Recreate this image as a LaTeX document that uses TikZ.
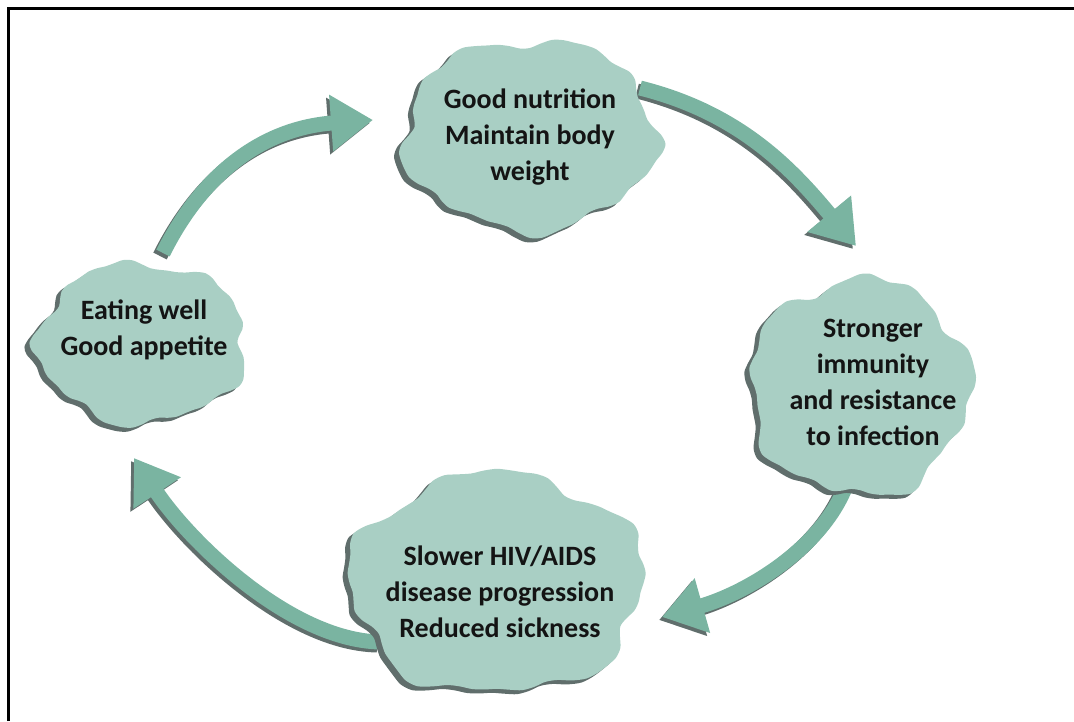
\documentclass[tikz,border=0pt]{standalone}
\usepackage{fontspec}
\setmainfont{Carlito}
\usetikzlibrary{arrows.meta,backgrounds}
\definecolor{blobfill}{RGB}{169,207,196}
\definecolor{arrowfill}{RGB}{122,180,161}
\definecolor{shadowc}{RGB}{96,110,108}
\definecolor{textc}{RGB}{20,20,20}
\newcommand{\drawblob}[5]{%
  \fill[shadowc] plot[smooth cycle, variable=\t, domain=0:355, samples=72]
   ({#1-5+#3*cos(\t)*(1+0.05*sin(5*\t+#5)+0.03*sin(9*\t+2*#5)+0.015*sin(17*\t+#5))},
    {#2+4+#4*sin(\t)*(1+0.05*sin(5*\t+#5)+0.03*sin(9*\t+2*#5)+0.015*sin(17*\t+#5))});
  \fill[blobfill] plot[smooth cycle, variable=\t, domain=0:355, samples=72]
   ({#1+#3*cos(\t)*(1+0.05*sin(5*\t+#5)+0.03*sin(9*\t+2*#5)+0.015*sin(17*\t+#5))},
    {#2+#4*sin(\t)*(1+0.05*sin(5*\t+#5)+0.03*sin(9*\t+2*#5)+0.015*sin(17*\t+#5))});
}
\tikzset{
  lbl/.style={font=\bfseries\fontsize{28}{36}\selectfont, text=textc, align=center, inner sep=0pt},
  flow/.style={line width=15pt, draw=arrowfill, -{Triangle[length=42pt,width=54pt]}},
  flowshadow/.style={line width=15pt, draw=shadowc, -{Triangle[length=42pt,width=54pt]},
    transform canvas={xshift=-3pt,yshift=-3pt}}
}
\begin{document}
\begin{tikzpicture}[x=1pt,y=-1pt]
\useasboundingbox (0,0) rectangle (1074,721);
\draw[line width=3pt] (8,721) -- (8,8) -- (1074,8);
% blobs
\drawblob{530}{135}{126}{95}{20}
\drawblob{860}{387}{110}{108}{110}
\drawblob{497}{583}{147}{110}{200}
\drawblob{142}{343}{104}{80}{300}
% labels
\node[lbl] (nut) at (530,137) {Good nutrition\\Maintain body\\weight};
\node[lbl] (imm) at (873,382) {Stronger\\immunity\\and resistance\\to infection};
\node[lbl] (hiv) at (500,592) {Slower HIV/AIDS\\disease progression\\Reduced sickness};
\node[lbl] (eat) at (144,330) {Eating well\\Good appetite};
% arrow ends
\coordinate (a1s) at ([shift={(19,-77)}]eat.center);
\coordinate (a1t) at ([shift={(-157,-17)}]nut.center);
\coordinate (a2s) at ([shift={(110,-49)}]nut.center);
\coordinate (a2t) at ([shift={(-17,-136)}]imm.center);
\coordinate (a3s) at ([shift={(-25,98)}]imm.center);
\coordinate (a3t) at ([shift={(162,25)}]hiv.center);
\coordinate (a4s) at ([shift={(-120,50)}]hiv.center);
\coordinate (a4t) at ([shift={(-10,128)}]eat.center);
\begin{scope}[on background layer]
\draw[flowshadow] (a1s) .. controls +(40,-80) and +(-110,8) .. (a1t);
\draw[flowshadow] (a2s) .. controls +(100,25) and +(-64,-77) .. (a2t);
\draw[flowshadow] (a3s) .. controls +(-22,66) and +(85,-24) .. (a3t);
\draw[flowshadow] (a4s) .. controls +(-90,-2) and +(55,83) .. (a4t);
\draw[flow] (a1s) .. controls +(40,-80) and +(-110,8) .. (a1t);
\draw[flow] (a2s) .. controls +(100,25) and +(-64,-77) .. (a2t);
\draw[flow] (a3s) .. controls +(-22,66) and +(85,-24) .. (a3t);
\draw[flow] (a4s) .. controls +(-90,-2) and +(55,83) .. (a4t);
\end{scope}
\end{tikzpicture}
\end{document}
